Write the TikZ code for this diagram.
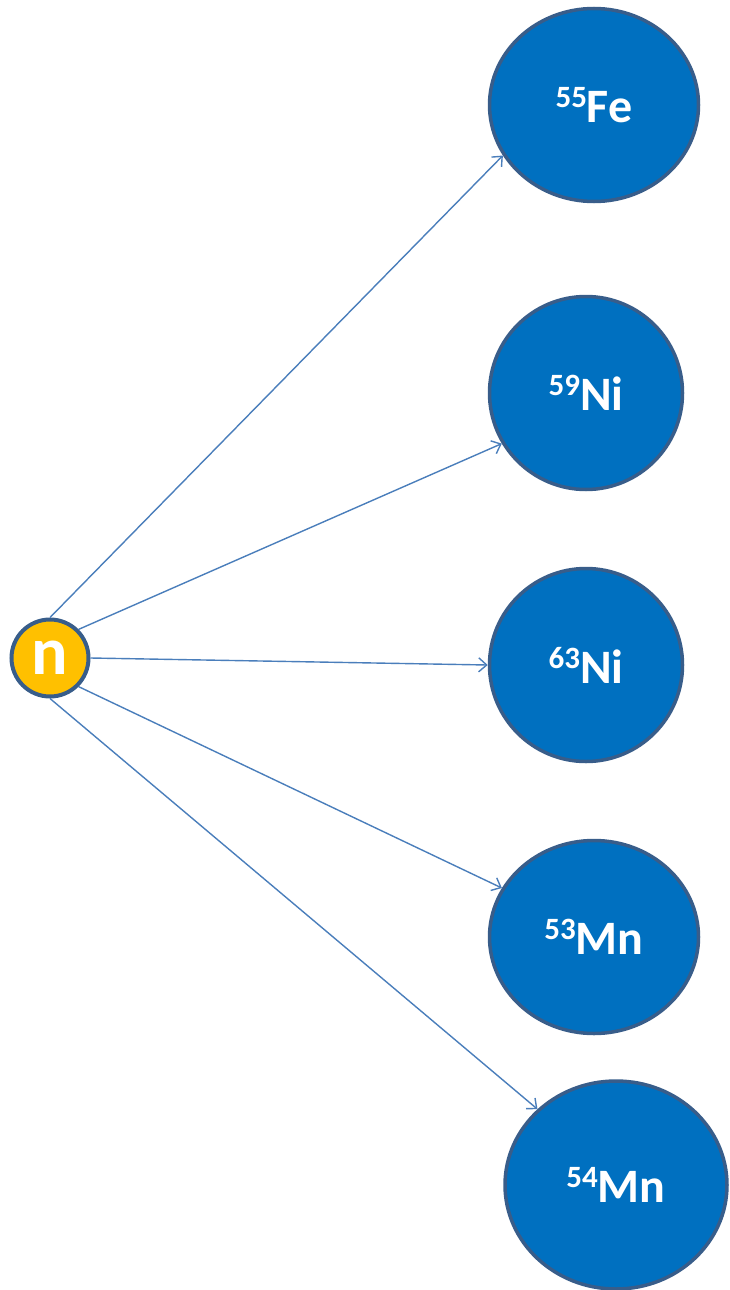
\documentclass[tikz,border=0pt]{standalone}
\usepackage{fontspec}
\setmainfont{Carlito}
\usetikzlibrary{shapes.geometric,arrows.meta}
\definecolor{nucfill}{HTML}{0070C0}
\definecolor{nucborder}{HTML}{385D8A}
\definecolor{arrowcol}{HTML}{4A7EBB}
\definecolor{neutron}{HTML}{FFC000}
\newcommand{\iso}[2]{\raisebox{15pt}{\fontsize{31}{31}\selectfont\bfseries #1}{\fontsize{48}{48}\selectfont\bfseries #2}}
\tikzset{
  nucleus/.style={ellipse, draw=nucborder, line width=3.5pt, fill=nucfill, text=white, inner sep=0pt},
  neutronbox/.style={circle, draw=nucborder, line width=4pt, fill=neutron, text=white, inner sep=0pt, minimum size=77pt, font=\fontsize{68}{68}\selectfont\bfseries},
  conn/.style={draw=arrowcol, line width=1.4pt, -{Straight Barb[length=8pt,width=14pt,line width=1.4pt]}}
}
\begin{document}
\begin{tikzpicture}[x=1pt,y=-1pt]
\useasboundingbox (0,0) rectangle (729,1290);
\node[neutronbox] (n) at (50,658) {n};
\node[nucleus, minimum width=209pt, minimum height=193pt] (fe55) at (594,105) {\iso{55}{Fe}};
\node[nucleus, minimum width=193pt, minimum height=193pt] (ni59) at (586,393) {\iso{59}{Ni}};
\node[nucleus, minimum width=193pt, minimum height=193pt] (ni63) at (586,665) {\iso{63}{Ni}};
\node[nucleus, minimum width=209pt, minimum height=193pt] (mn53) at (594,937) {\iso{53}{Mn}};
\node[nucleus, minimum width=222pt, minimum height=208pt] (mn54) at (616,1185) {\iso{54}{Mn}};
\draw[conn] (n.north) -- (fe55.209);
\draw[conn] (n.45) -- (ni59.211);
\draw[conn] (n.east) -- (ni63.west);
\draw[conn] (n.-45) -- (mn53.152);
\draw[conn] (n.south) -- (mn54.136.5);
\end{tikzpicture}
\end{document}
